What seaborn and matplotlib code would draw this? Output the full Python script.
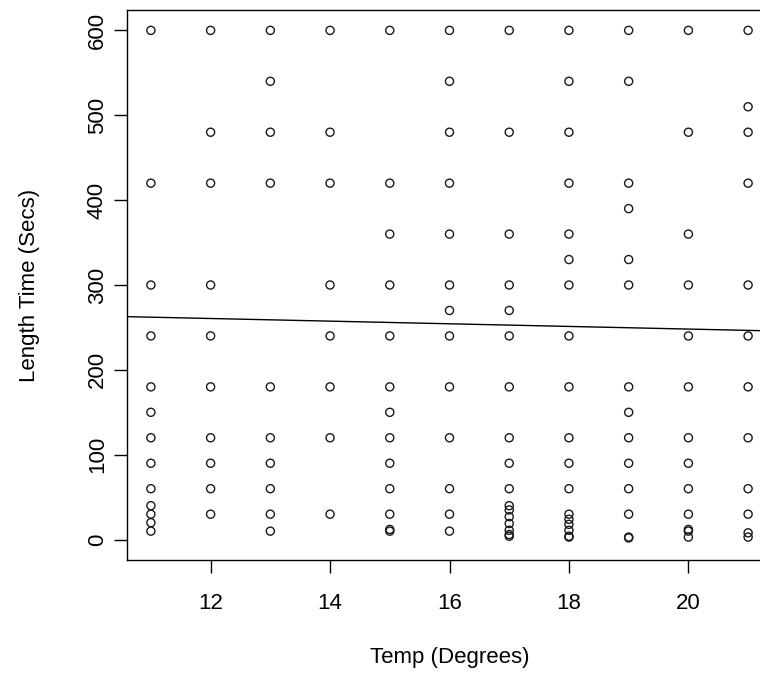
import numpy as np
import pandas as pd
import matplotlib
matplotlib.use("Agg")
import matplotlib.pyplot as plt
import seaborn as sns

# ---- data ----
temp_11 = [600, 420, 300, 240, 180, 150, 120, 90, 60, 40, 30, 20, 10]
temp_12 = [600, 480, 420, 300, 240, 180, 120, 90, 60, 30]
temp_13 = [600, 540, 480, 420, 180, 120, 90, 60, 30, 10]
temp_14 = [600, 480, 420, 300, 240, 180, 120, 30]
temp_15 = [600, 420, 360, 300, 240, 180, 150, 120, 90, 60, 30, 12, 10]
temp_16 = [600, 540, 480, 420, 360, 300, 270, 240, 180, 120, 60, 30, 10]
temp_17 = [600, 480, 360, 300, 270, 240, 180, 120, 90, 60, 40, 35, 27, 19, 11, 6, 4]
temp_18 = [600, 540, 480, 420, 360, 330, 300, 240, 180, 120, 90, 60, 30, 24, 18, 11, 4, 3]
temp_19 = [600, 540, 420, 390, 330, 300, 180, 150, 120, 90, 60, 30, 3, 2]
temp_20 = [600, 480, 360, 300, 240, 180, 120, 90, 60, 30, 12, 10, 3]
temp_21 = [600, 510, 480, 420, 300, 240, 180, 120, 60, 30, 8, 3]

temps = [11, 12, 13, 14, 15, 16, 17, 18, 19, 20, 21]
lengths = [temp_11, temp_12, temp_13, temp_14, temp_15, temp_16,
           temp_17, temp_18, temp_19, temp_20, temp_21]

# fitted line (abline)
fit_intercept = 279.2
fit_slope = -1.556

x_ticks = [12, 14, 16, 18, 20]
y_ticks = [0, 100, 200, 300, 400, 500, 600]

df = pd.DataFrame({
    "Temp": np.concatenate([[t] * len(v) for t, v in zip(temps, lengths)]),
    "Length": np.concatenate(lengths),
})

sns.set_style("ticks")
plt.rcParams["font.family"] = ["Liberation Sans", "DejaVu Sans"]

fig = plt.figure(figsize=(7.6, 6.75), dpi=100)
ax = fig.add_axes([127 / 760, 115 / 675, 645 / 760, 550 / 675])

sns.scatterplot(data=df, x="Temp", y="Length", ax=ax, marker="o", s=34,
                facecolors="none", edgecolors="#1a1a1a", linewidth=1.0,
                legend=False)
ax.axline((0, fit_intercept), slope=fit_slope, color="black", lw=1.0)

ax.set_xlim(10.6, 21.4)
ax.set_ylim(-24, 624)
ax.set_xticks(x_ticks)
ax.set_yticks(y_ticks)
ax.set_xticklabels([str(v) for v in x_ticks])
ax.set_yticklabels([str(v) for v in y_ticks], rotation=90, va="center")

for s in ax.spines.values():
    s.set_linewidth(1.0)
    s.set_color("black")
ax.spines["right"].set_visible(False)

ax.tick_params(axis="both", direction="out", length=9.7, width=1.0,
               colors="black", labelsize=16)
ax.tick_params(axis="x", pad=14)
ax.tick_params(axis="y", pad=4)

ax.set_xlabel("Temp (Degrees)", fontsize=16, color="black")
ax.set_ylabel("Length Time (Secs)", fontsize=16, color="black")
ax.xaxis.set_label_coords(0.5, -98 / 550)
ax.xaxis.label.set_va("center")
ax.yaxis.set_label_coords(-97 / 645, 0.5)
ax.yaxis.label.set_va("center")

fig.savefig("out.png", dpi=100)
